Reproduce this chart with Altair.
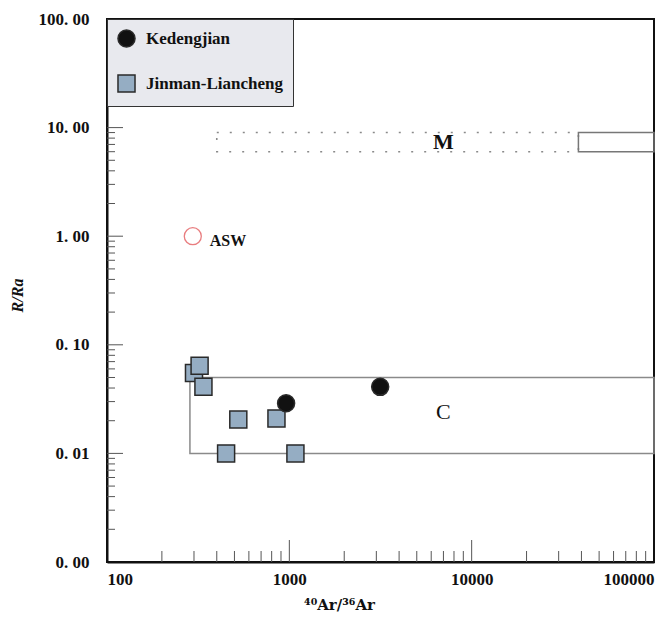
import altair as alt
import pandas as pd

# ---- data ----
series_names = ["Kedengjian", "Jinman-Liancheng"]
ked_x = [960, 3150]
ked_y = [0.029, 0.041]
jl_x = [300, 322, 338, 450, 525, 850, 1080]
jl_y = [0.055, 0.064, 0.041, 0.010, 0.0205, 0.021, 0.010]

asw_x = [295.5]
asw_y = [1.0]

# fields (boxes)
c_box = {"x": [285], "x2": [100000], "y": [0.01], "y2": [0.05]}
m_dotted = {"x": [400], "x2": [38500], "y": [6.0], "y2": [9.0]}
m_solid = {"x": [38500], "x2": [100000], "y": [6.0], "y2": [9.0]}

# annotations
m_label = {"x": [7000], "y": [7.4], "t": ["M"]}
c_label = {"x": [7000], "y": [0.024], "t": ["C"]}
asw_label_pos = {"x": [366], "y": [0.9], "t": ["ASW"]}

# axis ticks
x_major = [100, 1000, 10000, 100000]
x_major_inner = [1000, 10000]
x_minor = [m * d for d in (100, 1000, 10000) for m in range(2, 10)]
y_major = [0.001, 0.01, 0.1, 1, 10, 100]
y_major_inner = [0.01, 0.1, 1, 10]
y_minor = [m * d for d in (0.001, 0.01, 0.1, 1, 10) for m in range(2, 10)]

W, H = 547, 543
FONT = "Liberation Serif"

xs = alt.Scale(type="log", domain=[100, 100000], nice=False)
ys = alt.Scale(type="log", domain=[0.001, 100], nice=False)

xaxis = alt.Axis(values=x_major, format="d", ticks=False, grid=False,
                 labelFlush=True, labelPadding=9, labelFontSize=17,
                 labelFont=FONT, labelFontWeight="bold", labelColor="#111",
                 domainColor="#111", domainWidth=2,
                 title="\u2074\u2070Ar/\u00b3\u2076Ar", titleFont="DejaVu Serif",
                 titleFontSize=15, titleFontWeight="bold", titleColor="#111",
                 titleX=232, titleY=35)
yaxis = alt.Axis(values=y_major, labelExpr="replace(format(datum.value, '.2f'), '.', '. ')",
                 ticks=False, grid=False, labelPadding=18, labelFontSize=17,
                 labelFont=FONT, labelFontWeight="bold", labelColor="#111",
                 domainColor="#111", domainWidth=2,
                 title="R/Ra", titleFont=FONT, titleFontSize=16,
                 titleFontStyle="italic", titleFontWeight="bold", titleColor="#111",
                 titleX=-82, titleY=276)


def X(field):
    return alt.X(field, type="quantitative", scale=xs, axis=xaxis)


def Y(field):
    return alt.Y(field, type="quantitative", scale=ys, axis=yaxis)


pts = pd.DataFrame({
    "x": jl_x + ked_x,
    "y": jl_y + ked_y,
    "series": [series_names[1]] * len(jl_x) + [series_names[0]] * len(ked_x),
})

points = alt.Chart(pts).mark_point(filled=True, size=290, stroke="#2a2a2a",
                                   strokeWidth=1.5, opacity=1).encode(
    x=X("x"), y=Y("y"),
    color=alt.Color("series:N", scale=alt.Scale(domain=series_names,
                                                range=["#111111", "#95adc3"]),
                    legend=alt.Legend(title=None)),
    shape=alt.Shape("series:N", scale=alt.Scale(domain=series_names,
                                                range=["circle", "square"]),
                    legend=alt.Legend(title=None)),
)

asw = alt.Chart(pd.DataFrame({"x": asw_x, "y": asw_y})).mark_point(
    shape="circle", size=290, filled=False, stroke="#e0474a", strokeWidth=1.3
).encode(x=X("x"), y=Y("y"))

asw_label = alt.Chart(pd.DataFrame(asw_label_pos)).mark_text(
    align="left", baseline="middle", font=FONT, fontSize=16, fontWeight="bold", color="#111"
).encode(x=X("x"), y=Y("y"), text="t:N")

m_text = alt.Chart(pd.DataFrame(m_label)).mark_text(
    align="center", baseline="middle", font=FONT, fontSize=22, fontWeight="bold", color="#111"
).encode(x=X("x"), y=Y("y"), text="t:N")

c_text = alt.Chart(pd.DataFrame(c_label)).mark_text(
    align="center", baseline="middle", font=FONT, fontSize=22, color="#111"
).encode(x=X("x"), y=Y("y"), text="t:N")

c_rect = alt.Chart(pd.DataFrame(c_box)).mark_rect(
    fillOpacity=0, stroke="#8a8a8a", strokeWidth=1.5
).encode(x=X("x"), x2="x2", y=Y("y"), y2="y2")

m_dot = alt.Chart(pd.DataFrame(m_dotted)).mark_rect(
    fillOpacity=0, stroke="#8a8a8a", strokeWidth=1.6, strokeDash=[2, 11]
).encode(x=X("x"), x2="x2", y=Y("y"), y2="y2")

m_sol = alt.Chart(pd.DataFrame(m_solid)).mark_rect(
    fillOpacity=0, stroke="#777777", strokeWidth=1.5
).encode(x=X("x"), x2="x2", y=Y("y"), y2="y2")

# inward ticks
xt_minor = alt.Chart(pd.DataFrame({"v": x_minor})).mark_rule(color="#555", strokeWidth=1).encode(
    x=X("v"), y=alt.value(H), y2=alt.value(H - 11))
xt_major = alt.Chart(pd.DataFrame({"v": x_major_inner})).mark_rule(color="#555", strokeWidth=1).encode(
    x=X("v"), y=alt.value(H), y2=alt.value(H - 22))
yt_minor = alt.Chart(pd.DataFrame({"v": y_minor})).mark_rule(color="#555", strokeWidth=1).encode(
    y=Y("v"), x=alt.value(0), x2=alt.value(8))
yt_major = alt.Chart(pd.DataFrame({"v": y_major_inner})).mark_rule(color="#555", strokeWidth=1).encode(
    y=Y("v"), x=alt.value(0), x2=alt.value(16))

chart = alt.layer(
    xt_minor, xt_major, yt_minor, yt_major,
    m_dot, m_sol, c_rect, m_text, c_text, asw, asw_label, points
).properties(
    width=W, height=H,
    autosize=alt.AutoSizeParams(type="none"),
    padding={"left": 107, "top": 19, "right": 18, "bottom": 70},
).configure_view(
    stroke="#111", strokeWidth=2
).configure_legend(
    orient="none", legendX=0, legendY=0,
    fillColor="#e8e9ee", strokeColor="#333",
    padding=10, rowPadding=20, symbolSize=290, labelOffset=10,
    labelFont=FONT, labelFontSize=17, labelFontWeight="bold", labelColor="#111",
    symbolStrokeColor="#2a2a2a", symbolStrokeWidth=1.5, symbolType="circle",
)

chart.save("out.html", embed_options={"renderer": "svg", "actions": False})
